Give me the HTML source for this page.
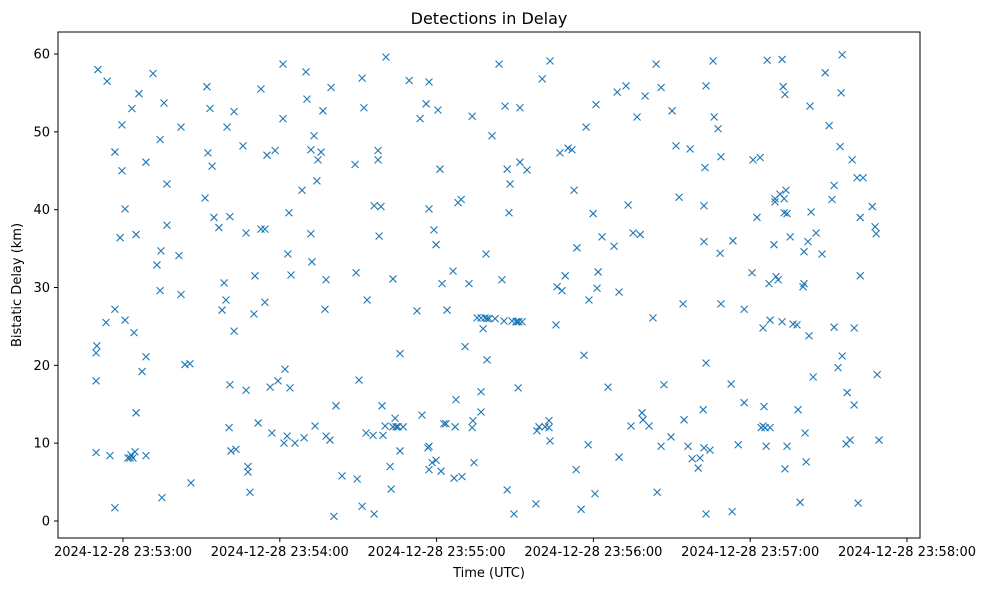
<!DOCTYPE html>
<html><head><meta charset="utf-8"><style>
body{margin:0;background:#fff;}
svg{display:block;font-family:"DejaVu Sans","Liberation Sans",sans-serif;}
</style></head><body>
<svg id="chart" width="988" height="590" viewBox="0 0 988 590" xmlns="http://www.w3.org/2000/svg">
<rect x="0" y="0" width="988" height="590" fill="#fff"/>
<text x="489" y="24" font-size="16" text-anchor="middle" fill="#000">Detections in Delay</text>
<g id="marks"></g>
<g id="xaxis"></g>
<g id="yaxis"></g>
<rect x="58" y="32" width="862" height="506" fill="none" stroke="#000" stroke-width="1"/>
<text x="489" y="577" font-size="13" text-anchor="middle">Time (UTC)</text>
<text transform="translate(21,285) rotate(-90)" font-size="13" text-anchor="middle">Bistatic Delay (km)</text>
</svg>
<script>
// times in seconds after 23:52:00 UTC
const times = [49.7,49.7,50.0,49.7,50.4,53.5,53.9,55.0,56.9,56.9,56.9,58.9,59.6,59.6,60.8,60.8,61.9,62.7,63.1,63.8,64.6,63.4,64.2,65.0,65.0,66.1,67.3,68.8,68.8,68.8,71.5,73.0,74.2,74.2,74.5,74.9,75.7,76.8,76.8,81.4,82.2,82.2,83.7,85.6,86.0,
91.4,92.1,92.5,93.3,94.1,94.8,96.7,97.9,98.7,99.4,99.8,100.6,100.9,100.9,101.3,102.5,102.5,103.2,105.9,107.1,107.1,107.8,107.8,108.6,110.1,110.5,111.7,112.8,112.8,114.3,114.3,115.1,116.3,117.0,118.2,119.3,121.2,121.2,121.6,122.0,122.8,123.1,123.5,123.9,124.3,125.8,128.5,129.3,130.0,130.4,131.9,131.9,132.3,133.1,133.5,134.2,134.6,135.8,136.5,137.3,137.7,137.7,139.2,139.6,140.7,141.5,143.8,
148.8,149.2,149.6,150.3,151.5,151.5,152.2,153.0,153.4,155.7,156.1,156.1,157.6,157.6,158.0,158.7,159.1,159.5,160.3,160.6,162.2,162.6,163.3,163.3,164.1,164.5,165.2,166.0,166.0,167.2,169.5,172.5,173.7,174.4,176.0,176.7,177.1,177.1,177.1,177.1,178.3,179.0,179.8,179.8,180.5,181.3,181.7,182.1,182.8,183.6,184.0,186.3,186.7,187.1,187.4,188.2,189.4,189.7,190.9,192.4,193.6,193.6,193.9,194.3,
195.5,197.0,197.0,197.0,197.8,198.5,198.9,199.3,199.3,200.1,201.2,202.4,203.9,205.0,205.8,206.2,207.0,207.0,207.7,208.1,208.9,209.6,210.4,210.8,211.2,211.5,211.9,211.9,212.7,214.6,218.0,218.4,219.2,220.4,221.5,223.0,223.0,223.4,223.4,225.7,226.1,227.2,228.0,229.2,230.3,231.8,232.6,233.4,233.7,235.3,236.4,237.2,238.0,238.3,239.9,240.6,241.0,241.4,241.8,243.3,245.6,247.9,249.1,249.8,249.8,
252.5,253.3,254.4,255.2,256.7,257.9,258.6,259.0,259.8,261.3,262.8,264.0,264.4,265.9,265.9,267.0,269.7,270.1,271.6,272.8,274.3,274.7,276.2,277.0,277.8,280.1,280.8,282.0,282.3,282.3,282.3,282.7,283.1,283.1,283.1,284.6,285.8,286.2,287.7,288.5,288.8,288.8,292.7,293.1,293.4,295.4,297.7,297.7,
300.7,301.1,302.6,303.8,304.2,304.9,304.9,305.3,305.7,306.1,306.5,307.2,307.6,307.6,309.1,309.5,309.5,309.9,310.7,311.4,312.2,312.2,312.6,313.0,313.0,313.3,313.3,313.7,314.1,314.1,315.3,316.4,317.9,318.3,319.1,320.2,320.6,320.6,321.0,321.4,322.1,322.5,322.9,323.3,324.1,325.2,327.5,328.7,330.2,331.3,332.1,332.1,333.6,334.4,334.8,335.2,335.2,336.7,337.1,338.2,339.0,339.8,339.8,340.9,341.3,342.1,342.1,343.2,346.7,347.8,348.2,348.6,349.3];
const delays = [18,21.6,22.5,8.8,58,25.5,56.5,8.4,27.2,1.7,47.4,36.4,50.9,45,25.8,40.1,8.1,8.1,8.5,8.1,8.9,53,24.2,13.9,36.8,54.9,19.2,21.1,8.4,46.1,57.5,32.9,29.6,49,34.7,3,53.7,43.3,38,34.1,29.1,50.6,20.1,20.2,4.9,
41.5,55.8,47.3,53,45.6,39,37.7,27.1,30.6,28.4,50.6,12,17.5,39.1,9,52.6,24.4,9.2,48.2,16.8,37,7,6.3,3.7,26.6,31.5,12.6,37.5,55.5,37.5,28.1,47,17.2,11.3,47.6,18,58.7,51.7,10,19.5,10.9,34.3,39.6,17.1,31.6,10,42.5,10.7,57.7,54.2,36.9,47.7,33.3,49.5,12.2,43.7,46.4,47.4,52.7,27.2,31,10.9,10.4,55.7,0.6,14.8,5.8,
45.8,31.9,5.4,18.1,1.9,56.9,53.1,11.3,28.4,11,0.9,40.5,46.4,47.6,36.6,40.4,14.8,11,12.2,59.6,7,4.1,12.1,31.1,13.2,12.1,12.1,9,21.5,12.1,56.6,27,51.7,13.6,53.6,9.4,40.1,9.6,6.6,56.4,7.5,37.4,35.5,7.8,52.8,45.2,6.4,30.5,12.5,12.5,27.1,32.1,5.5,12.1,15.6,40.9,41.3,5.7,22.4,30.5,12,52,12.9,7.5,
26.1,26.1,14,16.6,24.7,26.1,34.3,20.7,26,26,49.5,26,58.7,31,25.7,53.3,45.2,4,39.6,43.3,25.7,0.9,25.6,25.6,17.1,25.6,53.1,46.1,25.6,45.1,2.2,11.6,12.1,56.8,12.1,12.9,12,10.3,59.1,25.2,30.1,47.3,29.6,31.5,47.9,47.7,42.5,6.6,35.1,1.5,21.3,50.6,9.8,28.4,39.5,3.5,53.5,29.9,32,36.5,17.2,35.3,55.1,8.2,29.4,
55.9,40.6,12.2,37,51.9,36.8,13.9,13,54.6,12.2,26.1,58.7,3.7,55.7,9.6,17.5,10.8,52.7,48.2,41.6,27.9,13,9.6,47.8,8,6.8,8.1,14.3,9.4,40.5,35.9,45.4,55.9,20.3,0.9,9.1,59.1,51.9,50.4,34.4,46.8,27.9,17.6,1.2,36,9.8,27.2,15.2,
31.9,46.4,39,46.7,12,12.2,24.8,14.7,12,9.6,59.2,30.5,25.8,12,35.5,41,41.4,31.4,31,42,25.6,59.3,55.8,39.6,41.4,54.8,6.7,42.5,9.6,39.5,36.5,25.3,25.2,14.3,2.4,30.1,34.6,30.5,11.3,7.6,35.9,23.8,53.3,39.7,18.5,37,34.3,57.6,50.8,41.3,24.9,43.1,19.7,48.1,55,21.2,59.9,9.9,16.5,10.4,46.4,24.8,14.9,44.1,2.3,31.5,39,44.1,40.4,37.8,36.9,18.8,10.4];
const xTickSecs = [60,120,180,240,300,360];
const xTickLabels = ["2024-12-28 23:53:00","2024-12-28 23:54:00","2024-12-28 23:55:00","2024-12-28 23:56:00","2024-12-28 23:57:00","2024-12-28 23:58:00"];
const yTicks = [0,10,20,30,40,50,60];

const NS="http://www.w3.org/2000/svg";
function xs(t){return 123+(t-60)*(784/300);}
function ys(d){return 521-d*(467/60);}
const marks=document.getElementById('marks');
const n=Math.min(times.length,delays.length);
for(let i=0;i<n;i++){
  const cx=xs(times[i]), cy=ys(delays[i]), r=3.5;
  const p=document.createElementNS(NS,'path');
  p.setAttribute('d',`M${cx-r},${cy-r}L${cx+r},${cy+r}M${cx-r},${cy+r}L${cx+r},${cy-r}`);
  p.setAttribute('stroke','#1f77b4');p.setAttribute('stroke-width','1.1');p.setAttribute('fill','none');
  
  
  marks.appendChild(p);
}
const xa=document.getElementById('xaxis');
xTickSecs.forEach((s,i)=>{
  const x=xs(s);
  const l=document.createElementNS(NS,'line');
  l.setAttribute('x1',x);l.setAttribute('x2',x);l.setAttribute('y1',538);l.setAttribute('y2',542);l.setAttribute('stroke','#000');
  
  
  xa.appendChild(l);
  const t=document.createElementNS(NS,'text');
  t.setAttribute('x',x);t.setAttribute('y',556);t.setAttribute('font-size','13');t.setAttribute('text-anchor','middle');
  t.textContent=xTickLabels[i];
  
  
  xa.appendChild(t);
});
const ya=document.getElementById('yaxis');
yTicks.forEach(v=>{
  const y=ys(v);
  const l=document.createElementNS(NS,'line');
  l.setAttribute('x1',54);l.setAttribute('x2',58);l.setAttribute('y1',y);l.setAttribute('y2',y);l.setAttribute('stroke','#000');
  
  
  ya.appendChild(l);
  const t=document.createElementNS(NS,'text');
  t.setAttribute('x',50);t.setAttribute('y',y+4.5);t.setAttribute('font-size','13');t.setAttribute('text-anchor','end');
  t.textContent=String(v);
  
  
  ya.appendChild(t);
});
</script>
</body></html>
